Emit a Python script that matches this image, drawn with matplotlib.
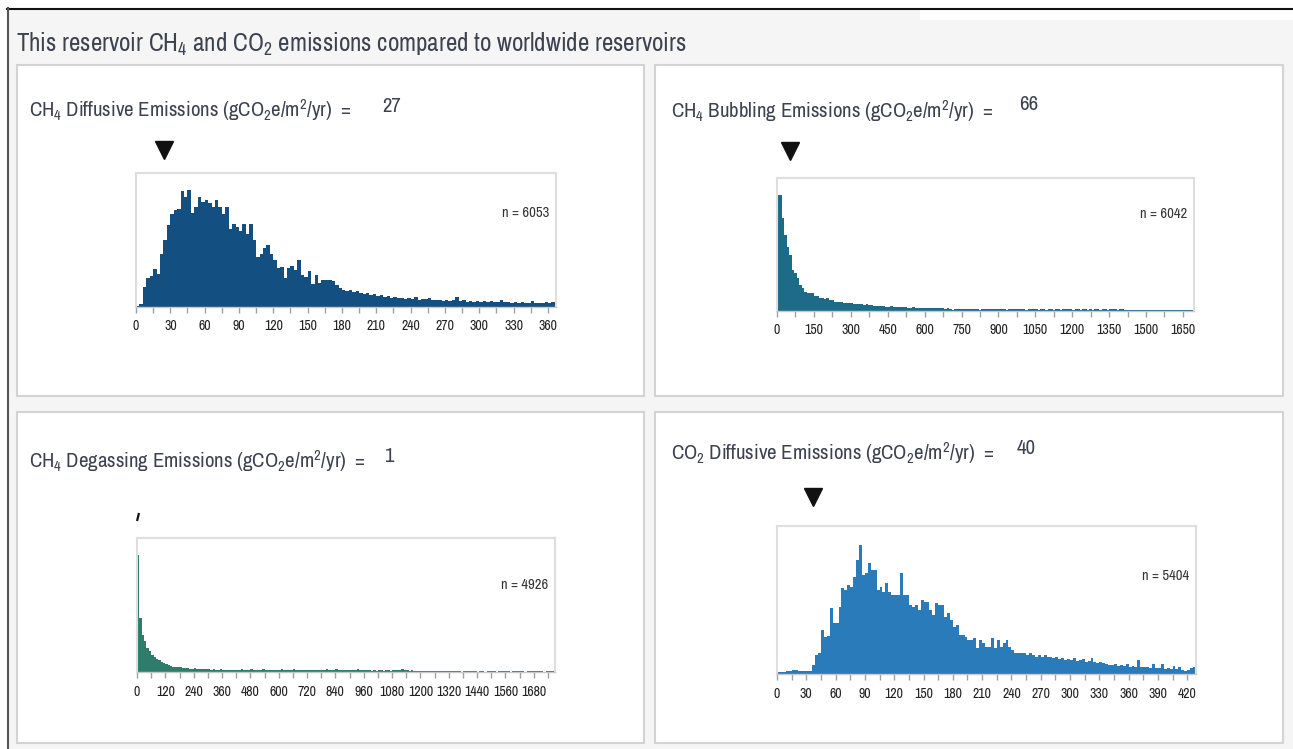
import numpy as np
import matplotlib
matplotlib.use('Agg')
import matplotlib.pyplot as plt
from matplotlib.patches import Rectangle
from matplotlib.transforms import blended_transform_factory, offset_copy

plt.rcParams['font.family'] = ['Archivo Narrow', 'Roboto Condensed', 'Liberation Sans', 'DejaVu Sans']
plt.rcParams['mathtext.fontset'] = 'custom'
plt.rcParams['mathtext.rm'] = 'Archivo Narrow'
plt.rcParams['mathtext.default'] = 'regular'

# ---- data (bar heights are relative counts) ----
titles = [r'CH$_4$ Diffusive Emissions (gCO$_2$e/m$^2$/yr)  =',
          r'CH$_4$ Bubbling Emissions (gCO$_2$e/m$^2$/yr)  =',
          r'CH$_4$ Degassing Emissions (gCO$_2$e/m$^2$/yr)  =',
          r'CO$_2$ Diffusive Emissions (gCO$_2$e/m$^2$/yr)  =']
this_values = [27, 66, 1, 40]
n_counts = [6053, 6042, 4926, 5404]
bin_widths = [3, 10, 10, 3]
colors = ['#134f80', '#1d6b88', '#2e7d6b', '#2a7bb9']

ch4_diffusive = [3, 8, 60, 88, 92, 115, 100, 160, 200, 245,
                 280, 292, 295, 348, 330, 350, 282, 300, 330, 315,
                 320, 312, 300, 320, 300, 280, 300, 235, 250, 240,
                 228, 248, 218, 248, 200, 150, 158, 178, 185, 158,
                 142, 118, 120, 88, 118, 122, 112, 142, 95, 90,
                 108, 68, 95, 72, 80, 82, 82, 78, 65, 58,
                 52, 48, 50, 46, 48, 42, 40, 42, 36, 38,
                 34, 35, 30, 32, 28, 30, 27, 28, 25, 27,
                 25, 30, 22, 25, 24, 26, 22, 20, 22, 18,
                 20, 19, 22, 30, 18, 20, 16, 18, 15, 17,
                 14, 18, 15, 17, 14, 16, 20, 14, 15, 13,
                 16, 12, 14, 12, 13, 18, 12, 13, 11, 14,
                 12, 16]

ch4_bubbling = [348, 348, 278, 228, 193, 168, 123, 113, 98, 78,
                68, 58, 53, 55, 53, 46, 46, 40, 40, 36,
                38, 33, 33, 27, 26, 26, 27, 25, 25, 25,
                24, 22, 21, 20, 21, 19, 20, 18, 17, 16,
                16, 15, 16, 14, 13, 13, 14, 13, 12, 11,
                12, 11, 11, 10, 10, 11, 10, 10, 9, 10,
                9, 9, 8, 9, 8, 8, 9, 8, 7, 8,
                7, 3, 7, 6, 7, 6, 6, 7, 6, 6,
                6, 6, 3, 6, 6, 5, 6, 5, 6, 5,
                5, 6, 5, 2, 6, 5, 5, 6, 5, 5,
                5, 2, 5, 6, 5, 5, 2, 5, 5, 2,
                5, 5, 2, 5, 5, 2, 5, 5, 5, 5,
                2, 5, 5, 2, 5, 5, 2, 5, 2, 5,
                5, 2, 5, 5, 2, 5, 5, 5, 2, 5,
                5, 3, 3, 3, 3, 3, 3, 3, 3, 3,
                3, 3, 3, 3, 3, 3, 3, 3, 3, 3,
                3, 3, 3, 3, 3, 3, 3, 3, 3, 3]

ch4_degassing = [350, 162, 112, 92, 72, 62, 52, 45, 38, 35,
                 30, 27, 24, 20, 18, 16, 15, 14, 14, 13,
                 12, 11, 10, 10, 11, 9, 9, 10, 8, 8,
                 8, 7, 8, 7, 7, 8, 7, 7, 6, 7,
                 6, 7, 6, 6, 8, 6, 7, 6, 8, 6,
                 6, 7, 6, 8, 6, 5, 6, 5, 6, 5,
                 5, 8, 5, 6, 5, 5, 8, 5, 5, 5,
                 5, 6, 5, 5, 5, 6, 5, 5, 7, 5,
                 8, 5, 7, 5, 8, 5, 7, 5, 5, 5,
                 5, 5, 5, 8, 5, 5, 5, 5, 5, 4,
                 5, 4, 5, 5, 4, 5, 5, 4, 5, 5,
                 5, 5, 8, 5, 5, 4, 5, 3, 3, 3,
                 3, 3, 3, 3, 3, 3, 3, 3, 3, 3,
                 3, 3, 3, 3, 3, 3, 3, 1, 3, 3,
                 3, 3, 3, 3, 1, 3, 3, 1, 3, 3,
                 3, 3, 1, 3, 3, 3, 3, 3, 1, 3,
                 3, 3, 3, 3, 1, 3, 3, 3, 3, 3,
                 3, 3, 1, 3, 3, 3, 3]

co2_diffusive = [7, 7, 7, 10, 10, 12, 12, 9, 9, 9,
                 10, 10, 27, 57, 62, 132, 110, 115, 197, 152,
                 154, 202, 257, 252, 267, 262, 292, 342, 387, 297,
                 302, 334, 312, 312, 252, 262, 247, 272, 247, 237,
                 237, 237, 302, 237, 237, 207, 200, 207, 192, 222,
                 217, 217, 192, 177, 212, 207, 207, 172, 182, 162,
                 142, 147, 117, 117, 112, 102, 102, 107, 77, 102,
                 92, 82, 82, 107, 77, 102, 82, 92, 102, 82,
                 72, 64, 64, 62, 62, 57, 62, 57, 52, 57,
                 52, 57, 50, 52, 47, 50, 44, 47, 42, 44,
                 42, 47, 40, 42, 44, 37, 40, 47, 37, 34,
                 36, 32, 30, 28, 27, 30, 25, 27, 24, 30,
                 22, 24, 22, 42, 22, 20, 22, 18, 30, 17,
                 18, 30, 16, 18, 15, 24, 14, 22, 12, 10,
                 12, 18, 22]

series = [ch4_diffusive, ch4_bubbling, ch4_degassing, co2_diffusive]

x_max = [367, 1695, 1770, 429]
y_max = [402, 398, 402, 444]
major_ticks = [list(range(0, 361, 30)), list(range(0, 1651, 150)),
               list(range(0, 1681, 120)), list(range(0, 421, 30))]
minor_ticks = [list(range(15, 366, 30)), list(range(75, 1695, 150)),
               list(range(60, 1770, 120)), list(range(15, 429, 30))]

# ---- layout (pixels in a 1293x749 canvas) ----
W, H = 1293, 749
fig = plt.figure(figsize=(W / 100, H / 100), dpi=100)
fig.patch.set_facecolor('white')


def fx(x):
    return x / W


def fy(y):
    return 1 - y / H


def rect(x0, y0, x1, y1, **kw):
    r = Rectangle((fx(x0), fy(y1)), (x1 - x0) / W, (y1 - y0) / H,
                  transform=fig.transFigure, **kw)
    fig.add_artist(r)


# page background and frame
rect(8, 9, W, H, facecolor='#f5f5f5', edgecolor='none', zorder=-3)
rect(920, 9, W, 20, facecolor='white', edgecolor='none', zorder=-3)
fig.add_artist(plt.Line2D([fx(7), 1], [fy(8.5), fy(8.5)], transform=fig.transFigure,
                          color='#111111', lw=1.5, zorder=-2))
fig.add_artist(plt.Line2D([fx(7.5), fx(7.5)], [fy(8), 0], transform=fig.transFigure,
                          color='#555555', lw=1.5, zorder=-2))

fig.text(fx(16), fy(44), r'This reservoir CH$_4$ and CO$_2$ emissions compared to worldwide reservoirs',
         ha='left', va='center', fontsize=18, color='#3c4250')

boxes = [(17, 65, 644, 396), (655, 65, 1283, 396),
         (17, 412, 644, 743), (655, 412, 1283, 743)]
for b in boxes:
    rect(*b, facecolor='white', edgecolor='#d3d3d3', lw=1.5, zorder=-1)

axes_px = [(136, 173, 556, 307), (777, 178, 1194, 311),
           (137, 538, 555, 672), (777, 526, 1196, 674)]
title_px = [(29, 110), (671, 111), (29, 461), (671, 453)]
value_px = [(382, 106), (1019, 104), (384, 457), (1017, 449)]
marker_y = [150, 151, None, 497]
n_y = [213, 214, 585, 576]

for i in range(4):
    x0, y0, x1, y1 = axes_px[i]
    ax = fig.add_axes([fx(x0), fy(y1), (x1 - x0) / W, (y1 - y0) / H])
    edges = np.arange(len(series[i]) + 1) * bin_widths[i]
    ax.stairs(series[i], edges, fill=True, color=colors[i], lw=0)
    ax.set_xlim(0, x_max[i])
    ax.set_ylim(0, y_max[i])
    ax.set_yticks([])
    ax.set_xticks(major_ticks[i])
    ax.set_xticklabels([str(t) for t in major_ticks[i]])
    ax.set_xticks(minor_ticks[i], minor=True)
    ax.tick_params(axis='x', which='both', length=4, width=1, color='#a0a0a0',
                   labelsize=10, labelcolor='#222222', pad=5)
    for side in ['top', 'left', 'right']:
        ax.spines[side].set_color('#dedede')
        ax.spines[side].set_linewidth(1.5)
    ax.spines['bottom'].set_color('#c8c8c8')
    ax.spines['bottom'].set_linewidth(1.0)

    ax.text(1 - 7 / (x1 - x0), (y1 - n_y[i]) / (y1 - y0), 'n = %d' % n_counts[i],
            transform=ax.transAxes, ha='right', va='center', fontsize=10.5, color='#333333')

    fig.text(fx(title_px[i][0]), fy(title_px[i][1]), titles[i], ha='left', va='center',
             fontsize=15, color='#3c4250')
    fig.text(fx(value_px[i][0]), fy(value_px[i][1]), str(this_values[i]), ha='left',
             va='center', fontsize=15, color='#3c4250')

    trans = blended_transform_factory(ax.transData, fig.transFigure)
    trans = offset_copy(trans, fig=fig, x=-3, y=0, units='dots')
    if marker_y[i] is not None:
        ax.plot([this_values[i]], [fy(marker_y[i])], marker='v', markersize=13,
                color='#111111', transform=trans, clip_on=False)
    else:
        # value too small for a triangle: a short slanted stroke as in the picture
        ax.plot([this_values[i] + 12, this_values[i] + 20], [fy(521), fy(513)],
                color='#111111', lw=1.6, transform=trans, clip_on=False,
                solid_capstyle='butt')

fig.savefig('out.png', dpi=100, facecolor=fig.get_facecolor())
